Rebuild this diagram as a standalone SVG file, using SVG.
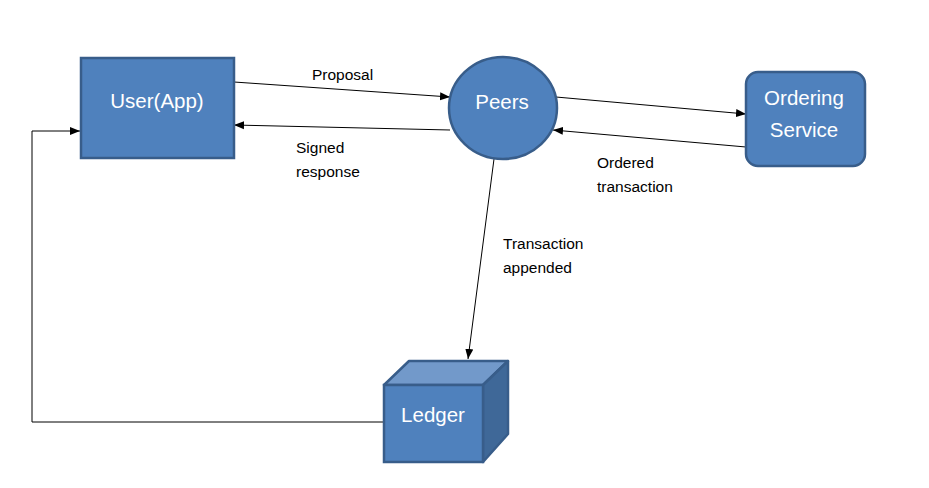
<svg xmlns="http://www.w3.org/2000/svg" width="929" height="488" viewBox="0 0 929 488">
<style>
.shape{fill:#4F81BD;stroke:#385D8A;stroke-width:2.5}
.top{fill:#7299CA;stroke:#385D8A;stroke-width:2.5;stroke-linejoin:round}
.side{fill:#3F6898;stroke:#385D8A;stroke-width:2.5;stroke-linejoin:round}
.nt{font-family:"Liberation Sans",Arial,sans-serif;font-size:20.5px;fill:#fff;text-anchor:middle}
.lbl{font-family:"Liberation Sans",Arial,sans-serif;font-size:15.5px;fill:#000}
.conn{stroke:#000;stroke-width:1;fill:none;marker-end:url(#ah)}
</style>
<defs>
<marker id="ah" viewBox="0 0 10 10" refX="10" refY="5" markerWidth="10" markerHeight="10" markerUnits="userSpaceOnUse" orient="auto">
<path d="M0,1 L10,5 L0,9 Z" fill="#000"/>
</marker>
</defs>
<rect width="929" height="488" fill="#fff"/>
<g id="connectors">
<line class="conn" x1="234" y1="82" x2="450" y2="97"/>
<line class="conn" x1="450" y1="130" x2="234" y2="125"/>
<line class="conn" x1="556" y1="97" x2="746" y2="114"/>
<line class="conn" x1="746" y1="147" x2="553" y2="130"/>
<line class="conn" x1="494" y1="159" x2="468" y2="359"/>
<polyline class="conn" points="384,422 32,422 32,131 80,131"/>
<text class="lbl" x="312" y="80">Proposal</text>
<text class="lbl" x="296" y="153">Signed</text>
<text class="lbl" x="296" y="177">response</text>
<text class="lbl" x="597" y="168">Ordered</text>
<text class="lbl" x="597" y="192">transaction</text>
<text class="lbl" x="503" y="249">Transaction</text>
<text class="lbl" x="503" y="273">appended</text>
</g>
<g id="user">
<rect class="shape" x="81" y="58" width="153" height="100"/>
<text class="nt" x="157" y="108">User(App)</text>
</g>
<g id="peers">
<ellipse class="shape" cx="503" cy="108" rx="54" ry="51"/>
<text class="nt" x="502" y="109">Peers</text>
</g>
<g id="ordering">
<rect class="shape" x="746" y="72" width="119" height="94" rx="12" ry="12"/>
<text class="nt" x="804" y="105">Ordering</text>
<text class="nt" x="804" y="137">Service</text>
</g>
<g id="ledger">
<polygon class="top" points="384,385 409,361 508,361 483,385"/>
<polygon class="side" points="483,385 508,361 508,434 483,462"/>
<rect class="shape" x="384" y="385" width="99" height="77"/>
<text class="nt" x="433" y="422">Ledger</text>
</g>
</svg>
